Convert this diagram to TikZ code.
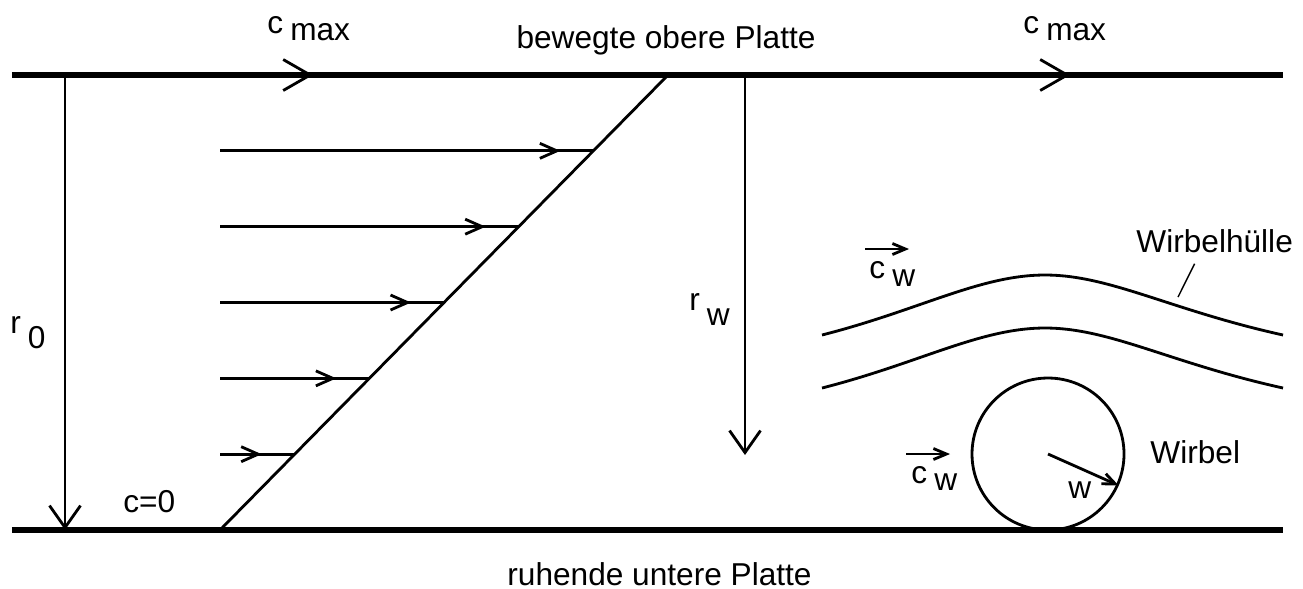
\documentclass[tikz,border=0pt]{standalone}
\usepackage{fontspec}
\setmainfont{Liberation Sans}
\usetikzlibrary{arrows.meta,decorations.markings}
\newcommand\lowidx[3]{#1\kern2pt\raisebox{-#2}{#3}}

\begin{document}
\begin{tikzpicture}[x=1cm,y=-1cm,line width=0.8pt,
  lbl/.style={inner sep=0pt,anchor=base west,font=\fontsize{9}{11}\selectfont},
  plate/.style={line width=1.7pt},
  barb/.style={-{Straight Barb[line width=0.8pt,length=2.2mm,width=3.1mm]}},
  small/.style={-{Straight Barb[line width=0.8pt,length=1.3mm,width=1.1mm]}},
  vel/.style={postaction={decorate},decoration={markings,
    mark=at position -3.3mm with {\arrow{Straight Barb[length=1.7mm,width=1.5mm]}}}},
  top/.style={postaction={decorate},decoration={markings,
    mark=at position 3.01cm with {\arrow{Straight Barb[line width=0.8pt,length=2.7mm,width=3.1mm]}},
    mark=at position 10.58cm with {\arrow{Straight Barb[line width=0.8pt,length=2.7mm,width=3.1mm]}}}}]
\useasboundingbox (0,0) rectangle (13.03,5.88);

\coordinate (tl) at (0.12,0.75);
\coordinate (tr) at (12.83,0.75);
\coordinate (bl) at (0.12,5.30);
\coordinate (br) at (12.83,5.30);
\coordinate (bot) at (2.20,5.30);
\coordinate (tip) at (6.68,0.75);

\draw[plate,top] (tl) -- (tr);
\draw[plate] (bl) -- (br);
\draw (bot) -- (tip);

\foreach \k in {1,...,5} {
  \path (bot) -- (tip) coordinate[pos=\k/6] (v\k);
  \coordinate (s\k) at (bot |- v\k);
  \draw[vel] (s\k) -- (v\k);
}

\coordinate (r0a) at (0.65,0.75);
\coordinate (r0b) at (0.65,5.30);
\draw[barb] (r0a) -- (r0b);
\coordinate (rwa) at (7.45,0.75);
\coordinate (rwb) at (7.45,4.55);
\draw[barb] (rwa) -- (rwb);

\node[lbl] (cmax1) at (2.66,0.33) {\lowidx{c}{2pt}{max}};
\node[lbl] (cmax2) at (10.22,0.33) {\lowidx{c}{2pt}{max}};
\node[lbl,anchor=base] (upper) at (6.66,0.48) {bewegte obere Platte};
\node[lbl,anchor=base] (lower) at (6.595,5.85) {ruhende untere Platte};
\node[lbl] (r0) at (0.09,3.33) {\lowidx{r}{4.3pt}{0}};
\node[lbl] (rw) at (6.88,3.10) {\lowidx{r}{4.3pt}{w}};
\node[lbl] (c0) at (1.22,5.12) {c=0};

\draw (8.22,3.35) .. controls (9.2,3.1) and (9.8,2.75) .. (10.45,2.75)
  .. controls (11.1,2.75) and (11.7,3.1) .. (12.83,3.35);
\draw (8.22,3.88) .. controls (9.2,3.63) and (9.8,3.28) .. (10.45,3.28)
  .. controls (11.1,3.28) and (11.7,3.63) .. (12.83,3.88);
\node[lbl] (hull) at (11.35,2.52) {Wirbelhülle};
\coordinate (hullpt) at (11.78,2.97);
\draw[line width=0.4pt] ([xshift=-2mm,yshift=-1mm]hull.south) -- (hullpt);

\node[draw,circle,minimum size=1.52cm,inner sep=0pt] (vortex) at (10.48,4.54) {};
\draw[small] (vortex.center) -- (vortex.-24);
\node[lbl] (w) at (10.67,4.98) {w};
\node[lbl] (vtx) at (11.49,4.63) {Wirbel};

\coordinate (cw1a) at (8.65,2.49);
\coordinate (cw1b) at (9.09,2.49);
\draw[small] (cw1a) -- (cw1b);
\node[lbl] (cw1) at (8.68,2.78) {\lowidx{c}{2.3pt}{w}};
\coordinate (cw2a) at (9.06,4.54);
\coordinate (cw2b) at (9.50,4.54);
\draw[small] (cw2a) -- (cw2b);
\node[lbl] (cw2) at (9.10,4.83) {\lowidx{c}{2pt}{w}};
\end{tikzpicture}
\end{document}
